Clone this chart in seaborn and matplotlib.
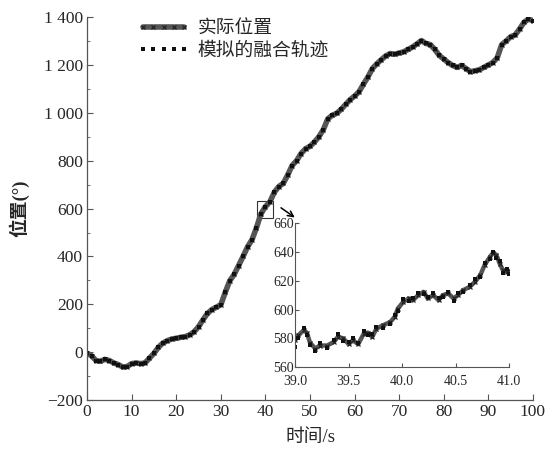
import numpy as np
import pandas as pd
import matplotlib
matplotlib.use("Agg")
import matplotlib.pyplot as plt
import seaborn as sns
from matplotlib.patches import Rectangle
from matplotlib.ticker import MultipleLocator

# main trajectory, one reading per second (0..100 s)
time_s = list(range(0, 101))
position = [
    -5, -15, -35, -38, -30, -35, -45, -52, -62, -60,
    -48, -45, -48, -45, -25, -5, 20, 38, 48, 55,
    58, 62, 65, 72, 85, 106, 135, 162, 178, 188,
    198, 250, 298, 325, 362, 400, 440, 470, 520, 578,
    608, 628, 668, 692, 705, 740, 780, 800, 830, 850,
    860, 878, 900, 930, 975, 990, 998, 1015, 1035, 1055,
    1070, 1088, 1120, 1150, 1185, 1205, 1222, 1238, 1248, 1245,
    1250, 1255, 1265, 1275, 1288, 1302, 1290, 1285, 1265, 1240,
    1225, 1210, 1198, 1190, 1198, 1185, 1172, 1176, 1180, 1190,
    1200, 1210, 1230, 1285, 1300, 1318, 1325, 1350, 1378, 1392,
    1385,
]

# zoomed detail 39-41 s
zoom_t = [39.00, 39.03, 39.08, 39.11, 39.14, 39.19, 39.23, 39.30, 39.36, 39.40,
          39.45, 39.50, 39.54, 39.59, 39.64, 39.68, 39.72, 39.76, 39.82, 39.89,
          39.93, 39.96, 40.01, 40.06, 40.10, 40.15, 40.20, 40.24, 40.29, 40.34,
          40.38, 40.43, 40.48, 40.52, 40.57, 40.63, 40.68, 40.73, 40.77, 40.82,
          40.85, 40.88, 40.91, 40.94, 40.98, 41.00]
zoom_actual = [578.6, 582.0, 585.6, 584.0, 577.0, 572.8, 575.0, 575.0, 577.4, 581.0,
               580.0, 576.0, 578.6, 576.0, 583.0, 584.0, 581.0, 586.7, 589.0, 591.4,
               594.9, 600.7, 605.3, 607.7, 606.5, 610.0, 612.3, 607.7, 610.0, 606.5,
               610.0, 611.2, 607.7, 610.0, 613.5, 615.8, 619.3, 624.0, 631.0, 636.7,
               639.5, 637.9, 632.0, 627.4, 626.3, 627.4]
zoom_fused = [574.0, 580.5, 587.0, 582.5, 575.5, 571.0, 576.5, 573.5, 579.0, 583.0,
              578.0, 577.5, 580.0, 577.0, 585.0, 582.0, 583.0, 588.0, 587.5, 590.0,
              596.5, 599.0, 607.0, 606.0, 608.0, 611.5, 610.5, 609.0, 611.5, 608.0,
              608.5, 612.5, 606.0, 611.5, 612.0, 617.0, 621.0, 622.5, 632.5, 635.0,
              640.0, 636.0, 633.5, 625.5, 628.0, 625.0]

sns.set_style("ticks")
plt.rcParams["font.family"] = ["Liberation Serif", "Noto Sans CJK SC"]

df = pd.DataFrame({"t": time_s, "pos": position})
dz = pd.DataFrame({"t": zoom_t, "actual": zoom_actual, "fused": zoom_fused})

fig = plt.figure(figsize=(5.58, 4.51), dpi=100)
ax = fig.add_axes([0.156, 0.113, 0.799, 0.849])

sns.lineplot(data=df, x="t", y="pos", ax=ax, color="#555555", linewidth=4.0,
             marker="x", markersize=3.5, markeredgecolor="#222222", markeredgewidth=0.9,
             label="实际位置")
sns.lineplot(data=df, x="t", y="pos", ax=ax, color="#111111", linestyle="none",
             marker="s", markersize=2.4, markeredgewidth=0,
             label="模拟的融合轨迹")

ax.set_xlim(0, 100)
ax.set_ylim(-200, 1400)
ax.xaxis.set_major_locator(MultipleLocator(10))
ax.set_yticks(range(-200, 1401, 200))
ax.set_yticklabels(["\u2212200", "0", "200", "400", "600", "800", "1 000", "1 200", "1 400"])
ax.yaxis.set_minor_locator(MultipleLocator(100))
ax.tick_params(direction="in", length=4, labelsize=12.5, color="#555555", pad=3)
ax.tick_params(which="minor", direction="in", length=2, color="#555555")
for s in ["top", "right"]:
    ax.spines[s].set_visible(False)
for s in ["left", "bottom"]:
    ax.spines[s].set_color("#555555")
    ax.spines[s].set_linewidth(0.9)
ax.set_xlabel("时间/s", fontsize=13.5, labelpad=6)
ax.set_ylabel("位置(°)", fontsize=13.5, labelpad=10, fontweight="bold")

ax.legend(loc="upper left", bbox_to_anchor=(0.075, 1.035), frameon=False,
          fontsize=13.5, handlelength=2.8, handletextpad=0.4,
          labelspacing=0.25, numpoints=5)

# zoom box and arrow
ax.add_patch(Rectangle((38.1, 560), 3.6, 71, fill=False, edgecolor="#333333", linewidth=0.8))
ax.annotate("", xy=(47.1, 556), xytext=(43.0, 610),
            arrowprops=dict(arrowstyle="->", color="black", lw=1.1))

# inset
axin = fig.add_axes([0.5287, 0.186, 0.384, 0.319])
sns.lineplot(data=dz, x="t", y="actual", ax=axin, color="#555555", linewidth=3.2,
             marker="x", markersize=3.5, markeredgecolor="#222222", markeredgewidth=0.9)
sns.lineplot(data=dz, x="t", y="fused", ax=axin, color="#111111", linestyle="none",
             marker="s", markersize=2.4, markeredgewidth=0)
axin.set_xlim(39, 41)
axin.set_ylim(560, 660)
axin.set_xticks([39.0, 39.5, 40.0, 40.5, 41.0])
axin.set_xticklabels(["39.0", "39.5", "40.0", "40.5", "41.0"])
axin.set_yticks(range(560, 661, 20))
axin.set_xlabel("")
axin.set_ylabel("")
axin.patch.set_alpha(0)
axin.tick_params(axis="y", direction="in", length=3, labelsize=10, color="#555555", pad=1)
axin.tick_params(axis="x", direction="in", length=3, labelsize=10, color="#555555", pad=5.5)
for s in ["top", "right"]:
    axin.spines[s].set_visible(False)
for s in ["left", "bottom"]:
    axin.spines[s].set_color("#555555")
    axin.spines[s].set_linewidth(0.8)

fig.savefig("out.png", dpi=100)
